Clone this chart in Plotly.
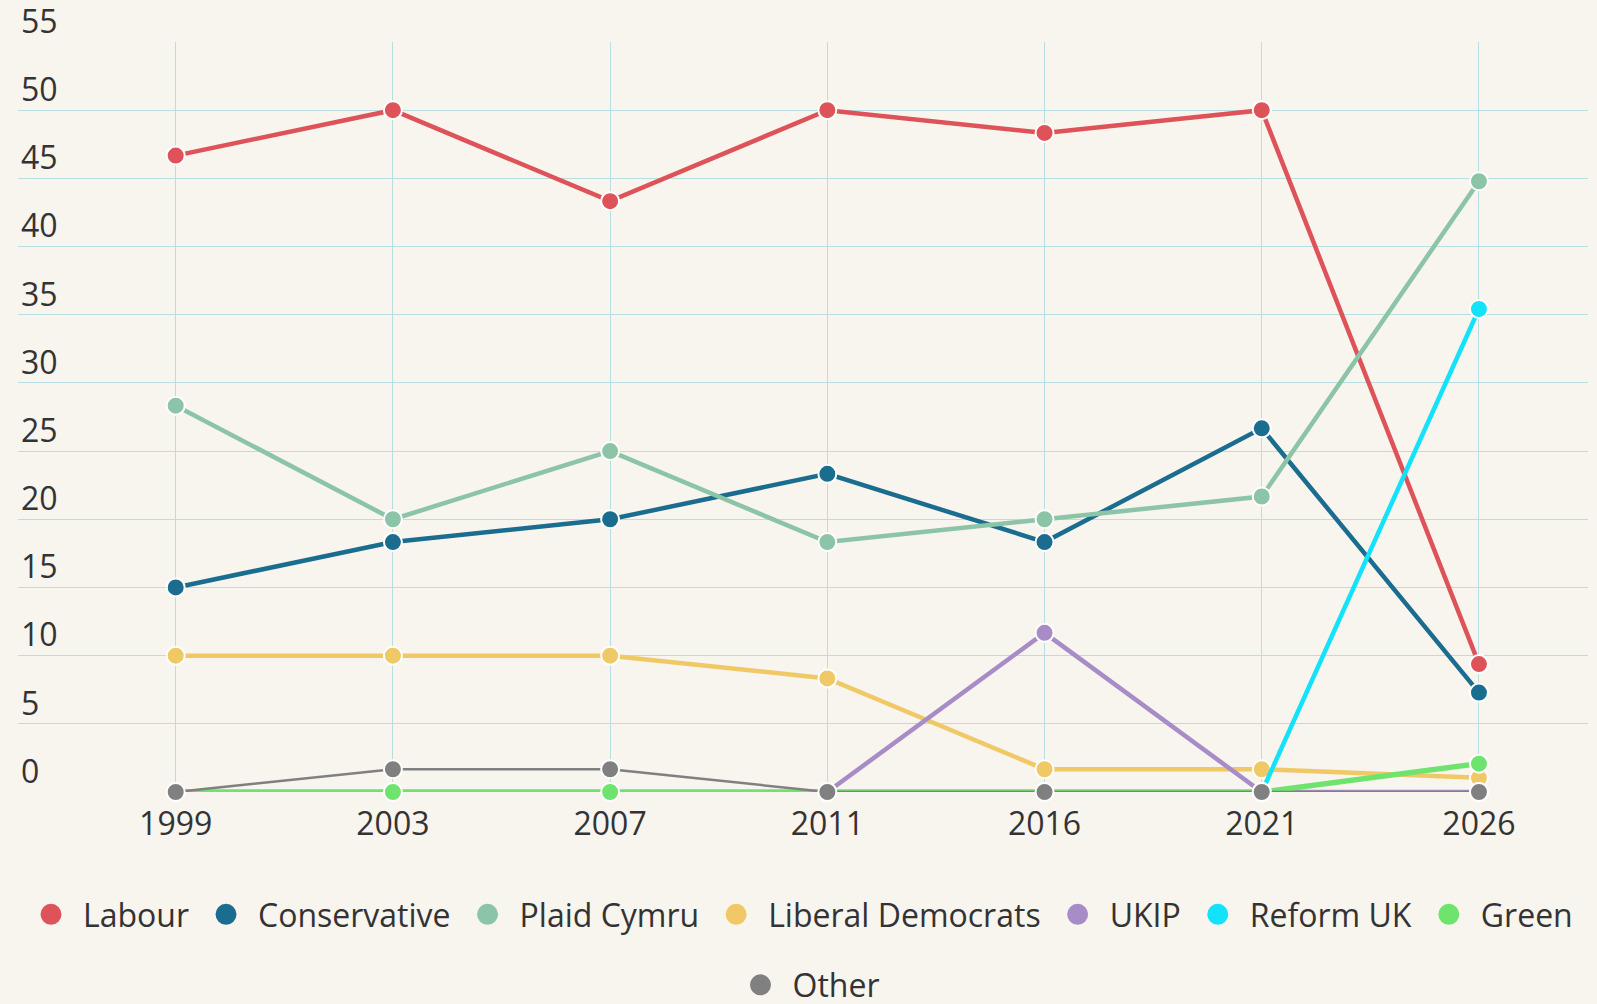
import plotly.graph_objects as go

years = ["1999", "2003", "2007", "2011", "2016", "2021", "2026"]

labour = [46.67, 50.0, 43.33, 50.0, 48.33, 50.0, 9.38]
conservative = [15.0, 18.33, 20.0, 23.33, 18.33, 26.67, 7.29]
plaid_cymru = [28.33, 20.0, 25.0, 18.33, 20.0, 21.67, 44.79]
lib_dems = [10.0, 10.0, 10.0, 8.33, 1.67, 1.67, 1.04]
ukip = [None, None, None, 0.0, 11.67, 0.0, 0.0]
reform_uk = [None, None, None, None, None, 0.0, 35.42]
green = [0.0, 0.0, 0.0, 0.0, 0.0, 0.0, 2.08]
other = [0.0, 1.67, 1.67, 0.0, 0.0, 0.0, 0.0]

y_ticks = [0, 5, 10, 15, 20, 25, 30, 35, 40, 45, 50, 55]

series = [
    ("Labour", labour, "#DD5359", 4.5),
    ("Conservative", conservative, "#1B6D90", 4.5),
    ("Plaid Cymru", plaid_cymru, "#8CC4A7", 4.5),
    ("Liberal Democrats", lib_dems, "#F0C866", 4.5),
    ("UKIP", ukip, "#A88CC7", 4.5),
    ("Reform UK", reform_uk, "#12E2FA", 4.5),
    ("Green", green, "#6EE46E", 5.5),
    ("Other", other, "#808080", 2.5),
]

BG = "#F8F4EE"
GRID = "#B8DEE1"
TEXT = "#333333"
FONT = "Open Sans"
FS = 32

W, H = 1597, 1004
ML, MR, MT, MB = 18, 9, 0, 190
PLOT_TOP, PLOT_BOTTOM = 42, 792  # pixel rows of the y=55 and y=0 lines
Y_MAX = 55
paper_h = H - MT - MB
dom_bottom = (paper_h - (PLOT_BOTTOM - MT)) / paper_h
dom_top = (paper_h - (PLOT_TOP - MT)) / paper_h
ppu = (PLOT_BOTTOM - PLOT_TOP) / Y_MAX
y2_range = [-(MT + paper_h - PLOT_BOTTOM) / ppu, Y_MAX + (PLOT_TOP - MT) / ppu]

fig = go.Figure()
for name, vals, color, lw in series:
    fig.add_trace(go.Scatter(
        x=years, y=vals, mode="lines+markers", name=name,
        line=dict(color=color, width=lw),
        marker=dict(color=color, size=18, line=dict(color="white", width=2)),
        cliponaxis=False, showlegend=False, legendgroup=name,
    ))
for name, vals, color, lw in series:
    fig.add_trace(go.Scatter(
        x=[None], y=[None], mode="markers", name=name,
        marker=dict(color=color, size=16, line=dict(color=color, width=5)),
        showlegend=True, legendgroup=name,
        legend="legend2" if name == "Other" else "legend",
    ))
# empty trace so the label-only y axis (y2) gets its own subplot
fig.add_trace(go.Scatter(x=[None], y=[None], xaxis="x2", yaxis="y2",
                         mode="markers", showlegend=False, hoverinfo="skip"))

fig.update_layout(
    width=W, height=H,
    margin=dict(l=ML, r=MR, t=MT, b=MB),
    paper_bgcolor=BG, plot_bgcolor="rgba(0,0,0,0)",
    font=dict(family=FONT, size=FS, color=TEXT),
    xaxis=dict(
        type="category", range=[-0.726, 6.502], domain=[0, 1], anchor="y",
        showgrid=True, gridcolor=GRID, gridwidth=1,
        showline=False, zeroline=False, ticks="",
        ticklabelstandoff=10,
        tickfont=dict(family=FONT, size=FS, color=TEXT),
    ),
    yaxis=dict(
        range=[0, Y_MAX], domain=[dom_bottom, dom_top], anchor="x",
        tickvals=y_ticks, showticklabels=False,
        showgrid=True, gridcolor=GRID, gridwidth=1,
        showline=False, zeroline=False, ticks="",
    ),
    xaxis2=dict(domain=[0, 1], anchor="y2", range=[0, 1],
                showgrid=False, zeroline=False, showticklabels=False,
                showline=False, ticks=""),
    yaxis2=dict(
        range=y2_range, domain=[0, 1], anchor="x2",
        tickvals=y_ticks, ticktext=[str(v) for v in y_ticks],
        showgrid=False, showline=False, zeroline=False, ticks="",
        ticklabelposition="inside top", ticklabelshift=2,
        ticklabeloverflow="allow",
        tickfont=dict(family=FONT, size=FS, color=TEXT),
    ),
    legend=dict(
        orientation="h", xref="container", yref="container",
        x=0.5, xanchor="center", y=1 - 887 / H, yanchor="top",
        font=dict(family=FONT, size=FS, color=TEXT),
        itemwidth=54, bgcolor="rgba(0,0,0,0)", tracegroupgap=0,
        traceorder="normal",
    ),
    legend2=dict(
        orientation="h", xref="container", yref="container",
        x=0.505, xanchor="center", y=1 - 985 / H, yanchor="middle",
        font=dict(family=FONT, size=FS, color=TEXT),
        itemwidth=54, bgcolor="rgba(0,0,0,0)",
    ),
    showlegend=True,
)

fig.write_html("out.html", config={"displayModeBar": False},
               post_script="document.body.style.margin='0px';")
